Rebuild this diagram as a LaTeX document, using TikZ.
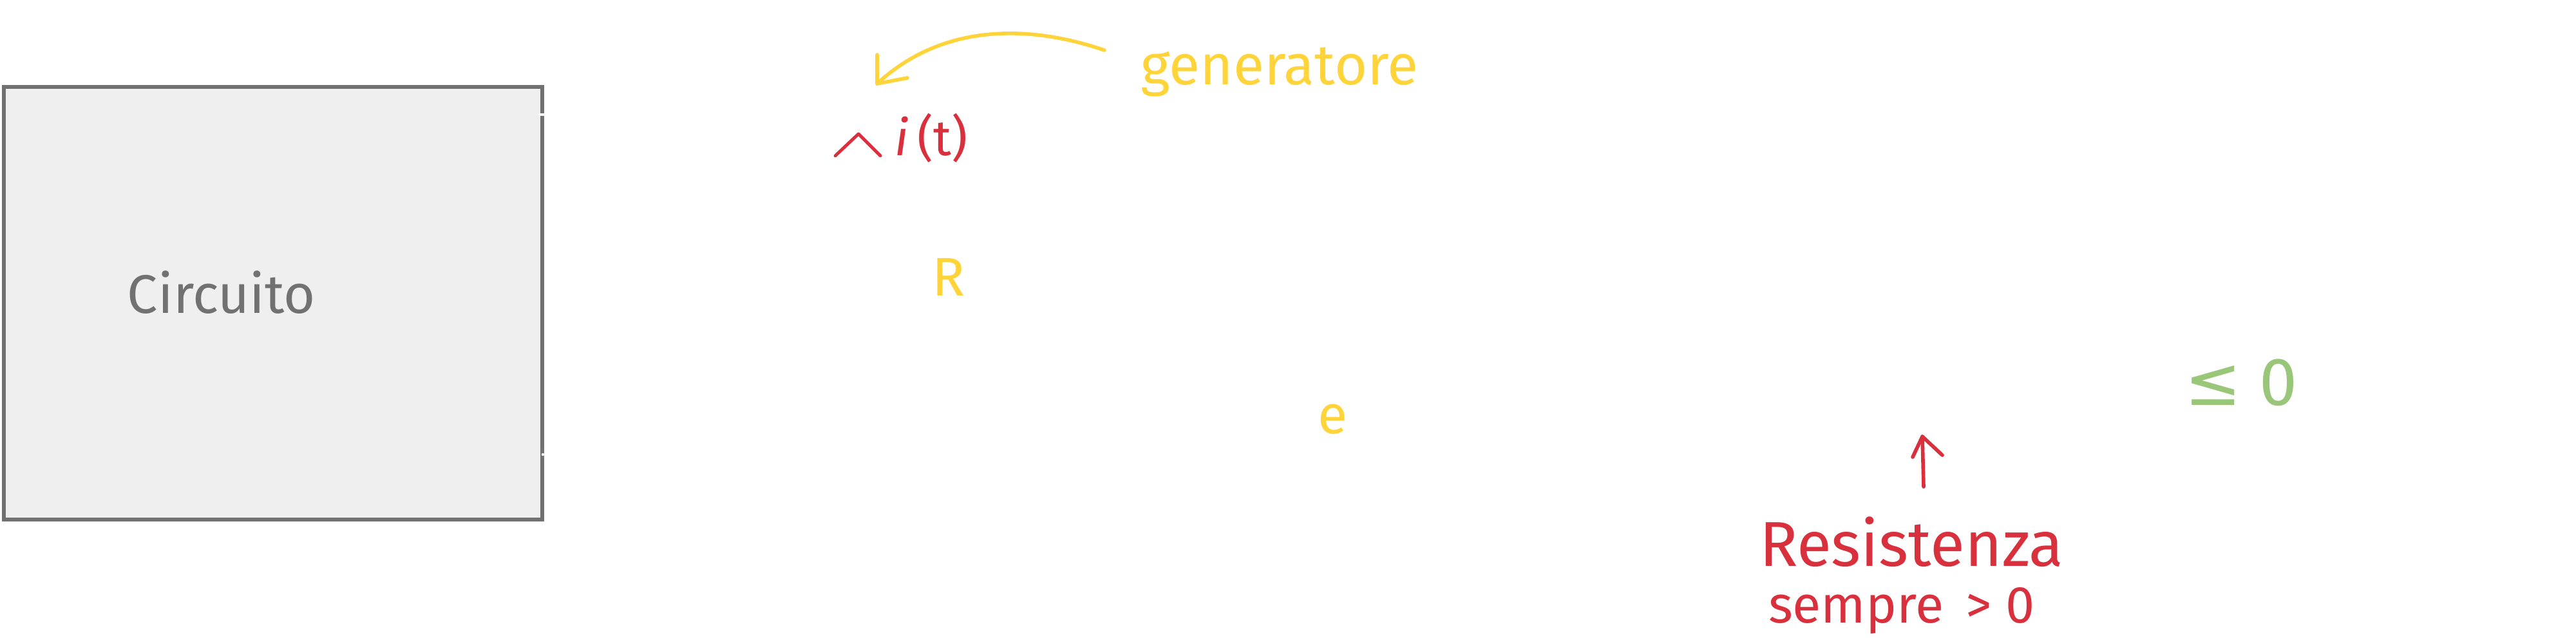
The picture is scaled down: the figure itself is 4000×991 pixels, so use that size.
\documentclass[tikz,border=0pt]{standalone}
\usepackage{fontspec}
\setmainfont{Fira Sans}
\newfontfamily\symfont{DejaVu Sans}
\definecolor{boxfill}{HTML}{EFEFEF}
\definecolor{boxline}{HTML}{717171}
\definecolor{hyellow}{HTML}{FFD43B}
\definecolor{hred}{HTML}{D9303E}
\definecolor{hgreen}{HTML}{9AC67A}
\tikzset{
  hand/.style={line width=1.6pt, line cap=round, line join=round},
  lbl/.style={inner sep=0pt, outer sep=0pt, anchor=center},
}
\begin{document}
\begin{tikzpicture}[x=0.01cm, y=-0.01cm]
\useasboundingbox (0,0) rectangle (4000,991);
% box
\node[draw=boxline, fill=boxfill, line width=1.7pt, inner sep=0pt,
      minimum width=8.36cm, minimum height=6.72cm, anchor=north west] (box) at (3,132) {};
\draw[white, line width=1.2pt, line cap=round] (838,178) -- (844,178);
\fill[white] (843,706) circle (2.2);
\node[lbl, text=boxline, font=\fontsize{24}{28}\selectfont] (circ) at (344,454) {Circuito};
% generatore + arrow
\node[lbl, text=hyellow, font=\fontsize{25}{30}\selectfont] (gen) at (1987,112) {generatore};
\coordinate (gtip) at (1362,130);
\coordinate (gstart) at (1715,78);
\draw[hand, hyellow] (gstart) .. controls (1610,42) and (1470,30) .. (gtip);
\draw[hand, hyellow] (1362,85) -- (gtip) -- (1409,121);
% i(t)
\draw[hand, hred, line width=1.4pt] (1297,242) -- (1333,208) -- (1367,242);
\node[lbl, text=hred, font=\fontsize{22}{26}\selectfont] (it) at (1446,214) {{\itshape i}\,(t)};
% R and e
\node[lbl, text=hyellow, font=\fontsize{24}{28}\selectfont] (R) at (1473,430) {R};
\node[lbl, text=hyellow, font=\fontsize{24}{28}\selectfont] (e) at (2069,651) {e};
% Resistenza
\node[lbl, text=hred, font=\fontsize{28}{32}\selectfont] (res) at (2968,842) {Resistenza};
\node[lbl, text=hred, font=\fontsize{23}{28}\selectfont] (semp) at (2953,949) {sempre \,> 0};
\coordinate (rtip) at (2985,678);
\coordinate (rbase) at (2987,756);
\draw[hand, hred] (rbase) -- (rtip);
\draw[hand, hred] (2970,710) -- (rtip) -- (3016,707);
% green
\node[lbl, text=hgreen, font=\fontsize{30}{34}\selectfont] (le) at (3480,594) {{\symfont ≤} 0};
\end{tikzpicture}
\end{document}
